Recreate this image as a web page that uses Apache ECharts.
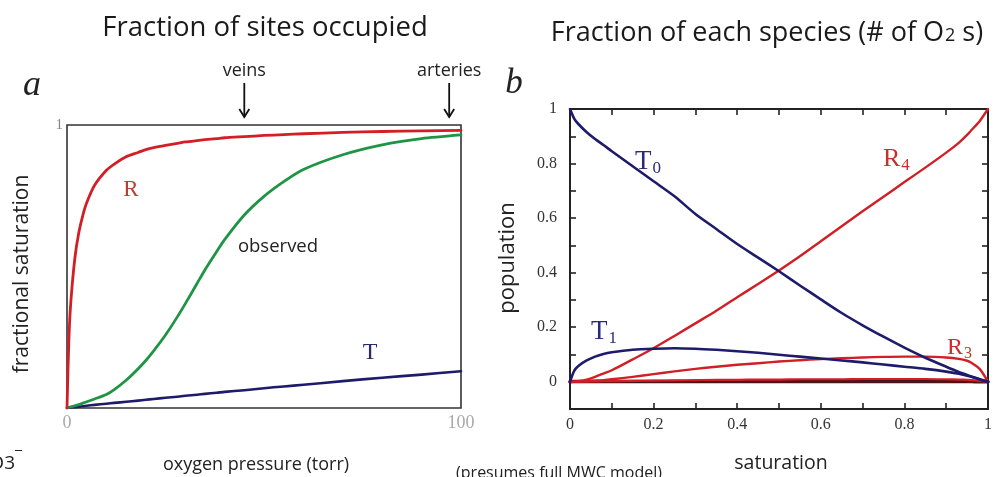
<!DOCTYPE html>
<html><head><meta charset="utf-8">
<script src="https://cdn.jsdelivr.net/npm/echarts@6/dist/echarts.min.js"></script>
<style>html,body{margin:0;padding:0;background:#fff}#c{width:1005px;height:477px}</style>
</head><body><div id="c"></div>
<script>
// ---- Panel a: fractional saturation vs oxygen pressure (torr)
const pressure = [0, 0.5, 1, 2, 3, 4, 5, 7, 10, 12, 15, 18, 20, 22, 25, 28, 30, 33, 35, 38, 40, 45, 50, 55, 60, 70, 80, 90, 100];
const satR =     [0, 0.25, 0.38, 0.53, 0.62, 0.68, 0.725, 0.787, 0.84, 0.862, 0.888, 0.903, 0.913, 0.92, 0.928, 0.935, 0.94, 0.945, 0.948, 0.952, 0.955, 0.959, 0.963, 0.966, 0.969, 0.974, 0.977, 0.979, 0.981];
const satObs =   [0, 0.002, 0.004, 0.008, 0.012, 0.017, 0.022, 0.032, 0.048, 0.065, 0.098, 0.138, 0.168, 0.202, 0.258, 0.322, 0.368, 0.44, 0.488, 0.553, 0.595, 0.682, 0.748, 0.8, 0.843, 0.895, 0.93, 0.952, 0.965];
const satT =     [0, 0.001, 0.002, 0.003, 0.005, 0.006, 0.008, 0.011, 0.015, 0.018, 0.022, 0.026, 0.029, 0.032, 0.036, 0.04, 0.043, 0.047, 0.05, 0.054, 0.057, 0.063, 0.07, 0.076, 0.082, 0.095, 0.107, 0.118, 0.13];
const veinsP = 45, arteriesP = 97;

// ---- Panel b: population of each species vs saturation
const satB = [0, 0.01, 0.02, 0.04, 0.06, 0.08, 0.1, 0.15, 0.2, 0.25, 0.3, 0.35, 0.4, 0.45, 0.5, 0.55, 0.6, 0.65, 0.7, 0.75, 0.8, 0.85, 0.9, 0.93, 0.95, 0.96, 0.98, 1.0];
const popT0 = [1, 0.965, 0.945, 0.915, 0.89, 0.868, 0.845, 0.79, 0.735, 0.68, 0.615, 0.56, 0.505, 0.455, 0.405, 0.353, 0.302, 0.252, 0.207, 0.165, 0.125, 0.088, 0.055, 0.036, 0.025, 0.019, 0.009, 0];
const popT1 = [0, 0.04, 0.058, 0.078, 0.092, 0.102, 0.108, 0.117, 0.121, 0.123, 0.121, 0.117, 0.112, 0.106, 0.099, 0.092, 0.085, 0.078, 0.071, 0.063, 0.055, 0.047, 0.037, 0.029, 0.022, 0.018, 0.009, 0];
const popR3 = [0, 0, 0.001, 0.002, 0.004, 0.006, 0.009, 0.018, 0.028, 0.038, 0.047, 0.055, 0.062, 0.068, 0.074, 0.079, 0.083, 0.086, 0.089, 0.091, 0.092, 0.092, 0.089, 0.084, 0.077, 0.07, 0.047, 0];
const popR4 = [0, 0, 0.002, 0.008, 0.018, 0.03, 0.042, 0.082, 0.123, 0.168, 0.214, 0.26, 0.31, 0.358, 0.408, 0.46, 0.515, 0.57, 0.625, 0.678, 0.732, 0.785, 0.84, 0.876, 0.905, 0.922, 0.955, 1.0];
const popR2 = [0, 0, 0, 0.001, 0.001, 0.002, 0.002, 0.003, 0.004, 0.005, 0.006, 0.007, 0.007, 0.008, 0.008, 0.009, 0.009, 0.009, 0.01, 0.01, 0.01, 0.01, 0.009, 0.008, 0.007, 0.006, 0.003, 0];
const popT2 = [0, 0.001, 0.001, 0.001, 0.001, 0.001, 0.001, 0.001, 0.001, 0.001, 0.001, 0.001, 0.001, 0.001, 0.001, 0.001, 0.001, 0.001, 0.001, 0.001, 0.001, 0.001, 0.001, 0.001, 0.001, 0.001, 0, 0];
const bTicks = { min: -0.1, max: 1, step: 0.1 };

const RED = '#d21f26', NAVY = '#1e1b6b', GREEN = '#1f9444';
const SANS = '"Open Sans", "Noto Sans", sans-serif';
const SERIF = '"Liberation Serif", "DejaVu Serif", serif';

function pairs(xs, ys) { return xs.map((x, i) => [x, ys[i]]); }
function line(name, xi, yi, xs, ys, color, w, z) {
  return { name, type: 'line', xAxisIndex: xi, yAxisIndex: yi, data: pairs(xs, ys), showSymbol: false, smooth: 0.25,
    lineStyle: { color, width: w || 2.6, cap: 'round', join: 'round' }, itemStyle: { color }, z: z || 3, silent: true, animation: false };
}
function fmtB(v) {
  const k = Math.round(v * 10);
  if (k < 0 || k % 2 !== 0) return '';
  return String(k / 10);
}

const chart = echarts.init(document.getElementById('c'), null, { renderer: 'canvas' });
const tickB = { show: true, inside: true, length: 6, lineStyle: { color: '#222', width: 1.6 } };
const axisLineB = { show: true, onZero: false, lineStyle: { color: '#222', width: 2 } };
const labB = { color: '#333', fontFamily: SERIF, fontSize: 16, formatter: fmtB };

chart.setOption({
  backgroundColor: '#fff',
  animation: false,
  grid: [
    { left: 67, top: 125, width: 394, height: 283, show: true, borderColor: '#333', borderWidth: 1.6, backgroundColor: 'transparent' },
    { left: 570, top: 109, width: 418, height: 300, show: false }
  ],
  xAxis: [
    { gridIndex: 0, type: 'value', min: 0, max: 100, interval: 100, axisLine: { show: false }, axisTick: { show: false }, splitLine: { show: false },
      axisLabel: { color: '#a8a8a8', fontFamily: SERIF, fontSize: 18, margin: 6 } },
    { gridIndex: 1, type: 'value', min: 0, max: 1, interval: 0.1, axisLine: axisLineB, axisTick: tickB, splitLine: { show: false },
      axisLabel: Object.assign({ margin: 8, showMaxLabel: true, showMinLabel: true }, labB) },
    { gridIndex: 1, type: 'value', position: 'top', min: 0, max: 1, interval: 0.1, axisLine: axisLineB, axisTick: tickB, splitLine: { show: false }, axisLabel: { show: false } }
  ],
  yAxis: [
    { gridIndex: 0, type: 'value', min: 0, max: 1, interval: 1, axisLine: { show: false }, axisTick: { show: false }, splitLine: { show: false },
      axisLabel: { color: '#888', fontFamily: SERIF, fontSize: 15, margin: 4, formatter: v => (v === 1 ? '1' : '') } },
    { gridIndex: 1, type: 'value', min: bTicks.min, max: bTicks.max, interval: bTicks.step, axisLine: axisLineB, axisTick: tickB, splitLine: { show: false },
      axisLabel: Object.assign({ margin: 13 }, labB) },
    { gridIndex: 1, type: 'value', position: 'right', min: bTicks.min, max: bTicks.max, interval: bTicks.step, axisLine: axisLineB, axisTick: tickB, splitLine: { show: false }, axisLabel: { show: false } }
  ],
  series: [
    line('T', 0, 0, pressure, satT, NAVY, 2.6),
    line('observed', 0, 0, pressure, satObs, GREEN, 2.8),
    line('R', 0, 0, pressure, satR, RED, 2.8),
    line('T2', 1, 1, satB, popT2, '#4a1418', 3.6, 2),
    line('R2', 1, 1, satB, popR2, RED, 2.2),
    line('R3', 1, 1, satB, popR3, RED, 2.4),
    line('R4', 1, 1, satB, popR4, RED, 2.4),
    line('T1', 1, 1, satB, popT1, NAVY, 2.6),
    line('T0', 1, 1, satB, popT0, NAVY, 2.6)
  ]
});

function txt(x, y, text, style) {
  return { type: 'text', x, y, silent: true, style: Object.assign({ text, fill: '#222', font: '16px ' + SANS }, style) };
}
function arrow(px, y0, y1) {
  return [
    { type: 'line', silent: true, shape: { x1: px, y1: y0, x2: px, y2: y1 }, style: { stroke: '#111', lineWidth: 1.8 } },
    { type: 'polyline', silent: true, shape: { points: [[px - 5, y1 - 8], [px, y1], [px + 5, y1 - 8]] }, style: { stroke: '#111', lineWidth: 1.8, fill: null } }
  ];
}
const vx = chart.convertToPixel({ xAxisIndex: 0 }, veinsP);
const ax = chart.convertToPixel({ xAxisIndex: 0 }, arteriesP);
const subRich = (color, size, sub) => ({
  m: { fill: color, font: size + 'px ' + SERIF },
  s: { fill: color, font: (sub || Math.round(size * 0.68)) + 'px ' + SERIF, padding: [Math.round(size * 0.5), 0, 0, 1] }
});

chart.setOption({
  graphic: [
    txt(265, 28, 'Fraction of sites occupied', { font: '27.5px ' + SANS, fill: '#1a1a1a', textAlign: 'center', textVerticalAlign: 'middle' }),
    { type: 'text', x: 767, y: 33, silent: true, style: { text: '{a|Fraction of each species (# of O}{b|2}{a| s)}', textAlign: 'center', textVerticalAlign: 'middle',
      rich: { a: { font: '27px ' + SANS, fill: '#1a1a1a' }, b: { font: '18px ' + SANS, fill: '#1a1a1a', padding: [5, 0, 0, 1] } } } },
    txt(32, 86, 'a', { font: 'italic 36px ' + SERIF, fill: '#222', textAlign: 'center', textVerticalAlign: 'middle' }),
    txt(514, 84, 'b', { font: 'italic 35px ' + SERIF, fill: '#222', textAlign: 'center', textVerticalAlign: 'middle' }),
    txt(vx, 71, 'veins', { font: '18px ' + SANS, textAlign: 'center', textVerticalAlign: 'middle' }),
    txt(ax, 71, 'arteries', { font: '18px ' + SANS, textAlign: 'center', textVerticalAlign: 'middle' }),
    ...arrow(vx, 83, 117),
    ...arrow(ax, 83, 117),
    { type: 'text', x: 22, y: 274, rotation: Math.PI / 2, silent: true, style: { text: 'fractional saturation', font: '21px ' + SANS, fill: '#222', textAlign: 'center', textVerticalAlign: 'middle' } },
    txt(256, 465, 'oxygen pressure (torr)', { font: '18px ' + SANS, textAlign: 'center', textVerticalAlign: 'middle' }),
    txt(559, 473, '(presumes full MWC model)', { font: '16px ' + SANS, textAlign: 'center', textVerticalAlign: 'middle' }),
    { type: 'text', x: 22, y: 464, silent: true, style: { text: 'HCO3{s|‾}', font: '19px ' + SANS, fill: '#222', textAlign: 'right', textVerticalAlign: 'middle',
      rich: { s: { font: '14px ' + SANS, fill: '#222', padding: [0, 0, 12, 0] } } } },
    { type: 'text', x: 508, y: 258, rotation: Math.PI / 2, silent: true, style: { text: 'population', font: '22px ' + SANS, fill: '#222', textAlign: 'center', textVerticalAlign: 'middle' } },
    txt(781, 463, 'saturation', { font: '19.5px ' + SANS, textAlign: 'center', textVerticalAlign: 'middle' }),
    txt(131, 190, 'R', { font: '23px ' + SERIF, fill: '#b8402e', textAlign: 'center', textVerticalAlign: 'middle' }),
    txt(278, 247, 'observed', { font: '18.5px ' + SANS, fill: '#222', textAlign: 'center', textVerticalAlign: 'middle' }),
    txt(370, 353, 'T', { font: '24px ' + SERIF, fill: '#2b2a6e', textAlign: 'center', textVerticalAlign: 'middle' }),
    { type: 'text', x: 635, y: 146, silent: true, style: { text: '{m|T}{s|0}', rich: subRich('#2b2a7a', 27, 17) } },
    { type: 'text', x: 883, y: 144, silent: true, style: { text: '{m|R}{s|4}', rich: subRich('#c8312b', 26, 17) } },
    { type: 'text', x: 591, y: 316, silent: true, style: { text: '{m|T}{s|1}', rich: subRich('#2b2a7a', 27, 17) } },
    { type: 'text', x: 947, y: 334, silent: true, style: { text: '{m|R}{s|3}', rich: subRich('#c8312b', 24, 16) } }
  ]
});
</script></body></html>
